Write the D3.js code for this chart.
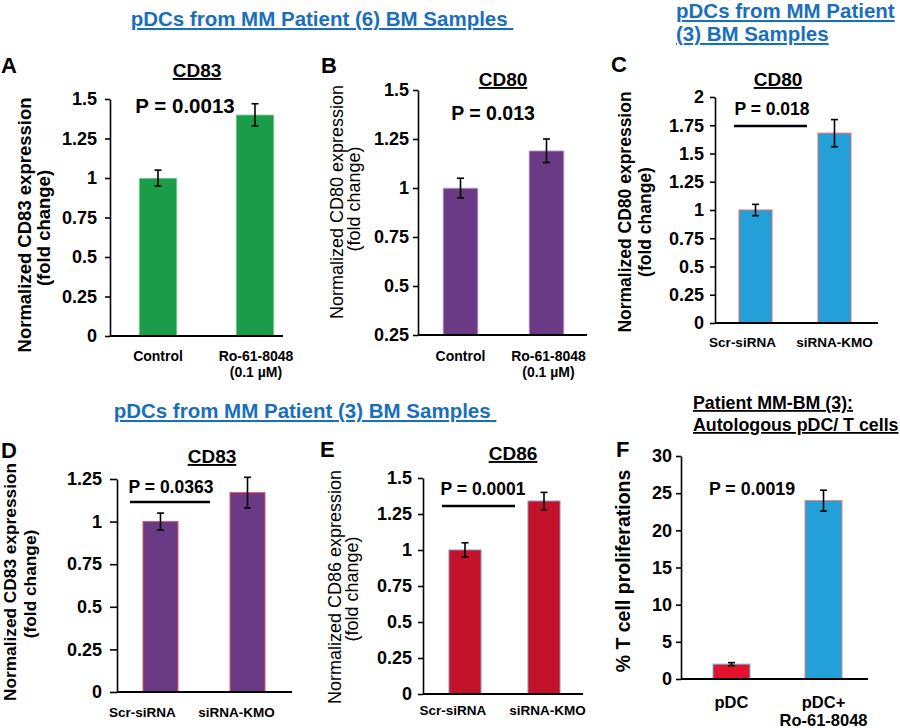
<!DOCTYPE html>
<html><head><meta charset="utf-8">
<script src="https://cdn.jsdelivr.net/npm/d3@7"></script>
<style>body{margin:0;background:#fff}svg{display:block}text{font-family:"Liberation Sans",Arial,sans-serif}</style>
</head><body><svg id="c" width="900" height="728"></svg>
<script>
// ---- data ----
const catsA = ["Control", "Ro-61-8048|(0.1 µM)"];
const valsA = [1.0, 1.4];
const errA = [0.05, 0.07];
const ticksA = [0, 0.25, 0.5, 0.75, 1, 1.25, 1.5];

const catsB = ["Control", "Ro-61-8048|(0.1 µM)"];
const valsB = [1.0, 1.19];
const errB = [0.05, 0.06];
const ticksB = [0.25, 0.5, 0.75, 1, 1.25, 1.5];

const catsC = ["Scr-siRNA", "siRNA-KMO"];
const valsC = [1.0, 1.68];
const errC = [0.05, 0.12];
const ticksC = [0, 0.25, 0.5, 0.75, 1, 1.25, 1.5, 1.75, 2];

const catsD = ["Scr-siRNA", "siRNA-KMO"];
const valsD = [1.0, 1.17];
const errD = [0.05, 0.09];
const ticksD = [0, 0.25, 0.5, 0.75, 1, 1.25];

const catsE = ["Scr-siRNA", "siRNA-KMO"];
const valsE = [1.0, 1.34];
const errE = [0.05, 0.06];
const ticksE = [0, 0.25, 0.5, 0.75, 1, 1.25, 1.5];

const catsF = ["pDC", "pDC+|Ro-61-8048"];
const valsF = [2.0, 24.0];
const errF = [0.2, 1.4];
const ticksF = [0, 5, 10, 15, 20, 25, 30];

const svg = d3.select("#c");
const BLUE = "#1a6fbd";

function panel(o) {
  const g = svg.append("g");
  const y = d3.scaleLinear().domain(o.domain).range([o.y0, o.y1]);
  const x = d3.scaleBand().domain(o.cats).range(o.band).paddingInner(o.pi).paddingOuter(0);
  // bars
  g.selectAll("rect.bar").data(o.vals).enter().append("rect")
    .attr("x", (d, i) => x(o.cats[i])).attr("width", x.bandwidth())
    .attr("y", d => y(d)).attr("height", d => y(o.domain[0]) - y(d))
    .attr("fill", (d, i) => o.colors[i])
    .attr("stroke", (d, i) => o.strokes[i]).attr("stroke-width", 1);
  // error bars
  o.vals.forEach((v, i) => {
    const cx = x(o.cats[i]) + x.bandwidth() / 2;
    const e = o.errs[i];
    g.append("line").attr("x1", cx).attr("x2", cx).attr("y1", y(v - e)).attr("y2", y(v + e)).attr("stroke", "#000").attr("stroke-width", 1.6);
    [v - e, v + e].forEach(t => g.append("line").attr("x1", cx - 3.5).attr("x2", cx + 3.5).attr("y1", y(t)).attr("y2", y(t)).attr("stroke", "#000").attr("stroke-width", 1.6));
  });
  // y axis
  const ax = g.append("g").attr("transform", `translate(${o.x0},0)`);
  ax.call(d3.axisLeft(y).tickValues(o.ticks).tickSize(o.tick || 5).tickSizeOuter(0).tickPadding(o.tpad).tickFormat(d => String(d)));
  ax.attr("font-size", 18).attr("font-weight", "bold");
  ax.selectAll("text").style("font-size", "18px").style("font-weight", "bold").style("fill", "#000");
  ax.selectAll("path").style("stroke-width", "1.6px");
  ax.selectAll("line").style("stroke-width", "1.6px");
  // x baseline
  g.append("line").attr("x1", o.x0).attr("x2", o.x1).attr("y1", o.y0).attr("y2", o.y0).attr("stroke", "#000").attr("stroke-width", 1.8);
  // category labels
  o.cats.forEach((c, i) => {
    const cx = x(c) + x.bandwidth() / 2 + (o.catDx ? o.catDx[i] : 0);
    c.split("|").forEach((s, k) => g.append("text").attr("x", cx).attr("y", o.catY + k * o.catLH)
      .attr("text-anchor", "middle").attr("font-size", o.catFS).attr("font-weight", "bold").text(s));
  });
  // y label
  o.ylab.forEach((s, k) => g.append("text").attr("transform", `translate(${o.ylabX[k]},${o.ylabY[k]}) rotate(-90)`)
    .attr("text-anchor", "middle").attr("font-size", o.ylabFS).attr("font-weight", o.ylabW).text(s));
  // title
  o.title.forEach((s, k) => {
    g.append("text").attr("x", o.titleX).attr("y", o.titleY + k * 22).attr("text-anchor", o.titleAnchor || "middle")
      .attr("font-size", o.titleFS).attr("font-weight", "bold").attr("text-decoration", "underline").text(s);
  });
  // letter
  g.append("text").attr("x", o.letter[1]).attr("y", o.letter[2]).attr("font-size", 22).attr("font-weight", "bold").text(o.letter[0]);
  // p value
  g.append("text").attr("x", o.p[1]).attr("y", o.p[2]).attr("text-anchor", "middle").attr("font-size", o.pFS).attr("font-weight", "bold").text(o.p[0]);
  if (o.pline) g.append("line").attr("x1", o.pline[0]).attr("x2", o.pline[1]).attr("y1", o.pline[2]).attr("y2", o.pline[2]).attr("stroke", "#000").attr("stroke-width", 2.5);
}

function header(lines, x, y, anchor, lh) {
  lines.forEach((s, k) => svg.append("text").attr("x", x).attr("y", y + k * lh).attr("text-anchor", anchor)
    .attr("font-size", 20.5).attr("font-weight", "bold").attr("fill", BLUE).attr("text-decoration", "underline")
    .style("white-space", "pre").text(s));
}
header(["pDCs from MM Patient (6) BM Samples "], 322, 26, "middle", 0);
header(["pDCs from MM Patient", "(3) BM Samples"], 676, 18, "start", 23);
header(["pDCs from MM Patient (3) BM Samples "], 305, 418, "middle", 0);

panel({cats: catsA, vals: valsA, errs: errA, ticks: ticksA, domain: [0, 1.5], y0: 336, y1: 99, x0: 110, x1: 283, band: [139, 274], pi: 0.608,
  colors: ["#1a9c48", "#1a9c48"], strokes: ["#cfe8d5", "#cfe8d5"], catY: 361, catLH: 16, catFS: 14, catDx: [0, 1], tpad: 8,
  ylab: ["Normalized CD83 expression", "(fold change)"], ylabX: [31, 50], ylabY: [225, 228], ylabFS: 18.5, ylabW: "bold",
  title: ["CD83"], titleX: 197, titleY: 77, titleFS: 19, letter: ["A", 1, 73], p: ["P = 0.0013", 185, 113], pFS: 20.5});

panel({cats: catsB, vals: valsB, errs: errB, ticks: ticksB, domain: [0.25, 1.5], y0: 335, y1: 90, x0: 418, x1: 587, band: [443, 564], pi: 0.593,
  colors: ["#6a3a85", "#6a3a85"], strokes: ["#ddd0e6", "#ddd0e6"], catY: 361, catLH: 16, catFS: 14, catDx: [0, 2], tpad: 4,
  ylab: ["Normalized CD80 expression", "(fold change)"], ylabX: [343, 360], ylabY: [202, 199], ylabFS: 18, ylabW: "normal",
  title: ["CD80"], titleX: 503, titleY: 86, titleFS: 19, letter: ["B", 321, 73], p: ["P = 0.013", 493, 120], pFS: 19.5});

panel({cats: catsC, vals: valsC, errs: errC, ticks: ticksC, domain: [0, 2], y0: 323, y1: 97, x0: 715, x1: 878, band: [739, 851], pi: 0.582,
  colors: ["#22a0d7", "#22a0d7"], strokes: ["#e86b6b", "#e86b6b"], catY: 347, catLH: 16, catFS: 13.5, catDx: [-13, 0], tpad: 6,
  ylab: ["Normalized CD80 expression", "(fold change)"], ylabX: [631, 651], ylabY: [212, 222], ylabFS: 17.5, ylabW: "bold",
  title: ["CD80"], titleX: 778, titleY: 86, titleFS: 19, letter: ["C", 611, 72], p: ["P = 0.018", 772, 115], pFS: 17.5, pline: [734, 807, 126]});

panel({cats: catsD, vals: valsD, errs: errD, ticks: ticksD, domain: [0, 1.25], y0: 692, y1: 479, x0: 117, x1: 292, band: [143, 265], pi: 0.598,
  colors: ["#6a3a85", "#6a3a85"], strokes: ["#e0506a", "#e0506a"], catY: 717, catLH: 16, catFS: 13.5, catDx: [-18, -11], tpad: 8, tick: 7,
  ylab: ["Normalized CD83 expression", "(fold change)"], ylabX: [16, 36], ylabY: [582, 584], ylabFS: 17.3, ylabW: "bold",
  title: ["CD83"], titleX: 212, titleY: 463, titleFS: 19, letter: ["D", 1, 458], p: ["P = 0.0363", 171, 493], pFS: 17.5, pline: [130, 210, 502]});

panel({cats: catsE, vals: valsE, errs: errE, ticks: ticksE, domain: [0, 1.5], y0: 694, y1: 478, x0: 423, x1: 583, band: [449, 560], pi: 0.595,
  colors: ["#c2132a", "#c2132a"], strokes: ["#8a90b8", "#8a90b8"], catY: 715, catLH: 16, catFS: 13.5, catDx: [-12, 3.5], tpad: 6,
  ylab: ["Normalized CD86 expression", "(fold change)"], ylabX: [341, 358], ylabY: [587, 589], ylabFS: 18, ylabW: "normal",
  title: ["CD86"], titleX: 513, titleY: 460, titleFS: 19, letter: ["E", 320, 457], p: ["P = 0.0001", 483, 495], pFS: 17.5, pline: [442, 515, 506]});

panel({cats: catsF, vals: valsF, errs: errF, ticks: ticksF, domain: [0, 30], y0: 679, y1: 456, x0: 681, x1: 868, band: [713, 842], pi: 0.598,
  colors: ["#e3132e", "#22a0d7"], strokes: ["#5cc0e8", "#e8817a"], catY: 708, catLH: 18, catFS: 16.5, tpad: 4,
  ylab: ["% T cell proliferations"], ylabX: [630], ylabY: [571], ylabFS: 19.5, ylabW: "bold",
  title: ["Patient MM-BM (3):", "Autologous pDC/ T cells"], titleX: 693, titleY: 409, titleAnchor: "start", titleFS: 17.8,
  letter: ["F", 616, 457], p: ["P = 0.0019", 752, 495], pFS: 17.8});
</script></body></html>
